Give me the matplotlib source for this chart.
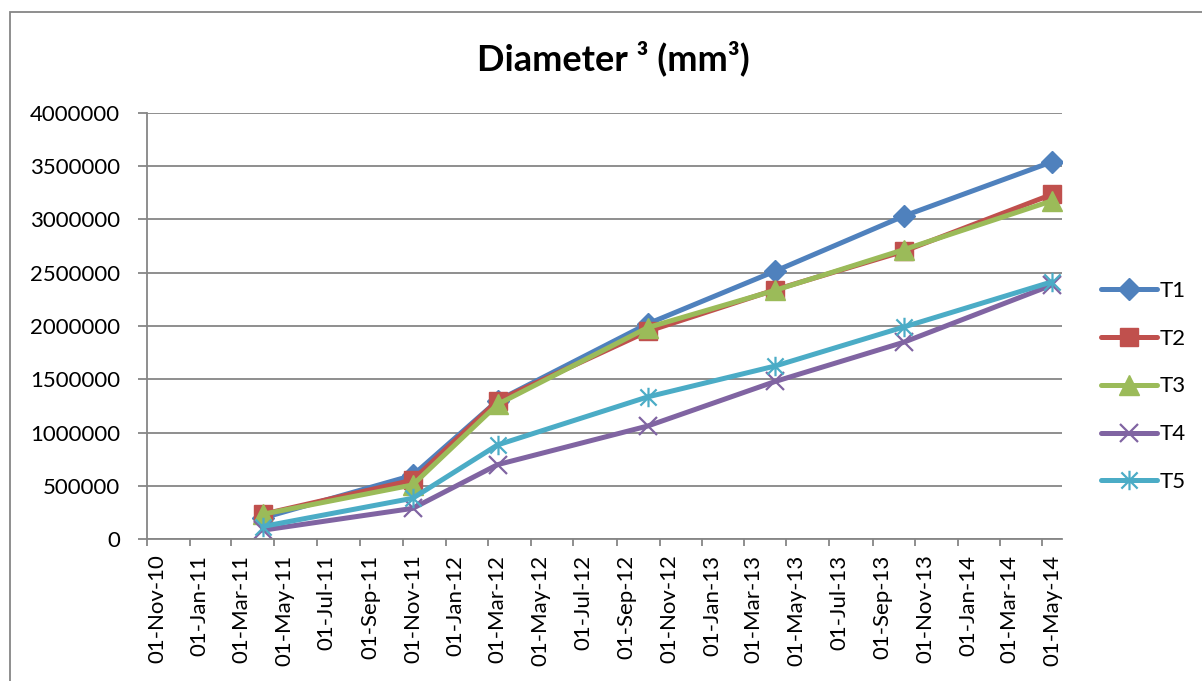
import matplotlib
matplotlib.use("Agg")
import matplotlib.pyplot as plt
import matplotlib.dates as mdates
import matplotlib.transforms as mtransforms
from matplotlib.path import Path
from matplotlib.patches import Rectangle
import pandas as pd

# ---- data ----
dates = ["2011-04-15", "2011-11-15", "2012-03-15", "2012-10-15",
         "2013-04-15", "2013-10-15", "2014-05-15"]
series_names = ["T1", "T2", "T3", "T4", "T5"]
T1 = [200000, 600000, 1300000, 2020000, 2515000, 3030000, 3540000]
T2 = [235000, 555000, 1300000, 1950000, 2340000, 2700000, 3235000]
T3 = [235000, 510000, 1265000, 1985000, 2335000, 2715000, 3175000]
T4 = [85000, 290000, 700000, 1062000, 1480000, 1847000, 2385000]
T5 = [120000, 385000, 885000, 1335000, 1625000, 1990000, 2415000]
y_ticks = [0, 500000, 1000000, 1500000, 2000000, 2500000, 3000000, 3500000, 4000000]
x_tick_start = "2010-11-01"
x_tick_end = "2014-05-01"
title = "Diameter \u00b3 (mm\u00b3)"

plt.rcParams['font.family'] = ['Lato', 'DejaVu Sans']

W, H = 1202, 681
fig = plt.figure(figsize=(W / 100, H / 100), dpi=100)
fig.patch.set_facecolor("white")

# outer chart border (cropped on right and bottom)
fig.patches.append(Rectangle((10 / W, -0.05), 1.2, 1 - 12 / H + 0.05,
                             transform=fig.transFigure, fill=False,
                             edgecolor="#868686", linewidth=1.3))

ax = fig.add_axes([147 / W, 1 - 539.3 / H, (1062 - 147) / W, (539.3 - 112.7) / H])

x = pd.to_datetime(dates)

# star marker (x plus vertical bar)
star = Path([(-0.5, -0.5), (0.5, 0.5), (-0.5, 0.5), (0.5, -0.5), (0, -0.6), (0, 0.6)],
            [Path.MOVETO, Path.LINETO, Path.MOVETO, Path.LINETO, Path.MOVETO, Path.LINETO])

styles = [
    dict(color="#4F81BD", marker="D", ms=11),
    dict(color="#C0504D", marker="s", ms=13),
    dict(color="#9BBB59", marker="^", ms=14),
    dict(color="#8064A2", marker="x", ms=13, mew=1.6),
    dict(color="#4BACC6", marker=star, ms=14, mew=1.6),
]
for name, vals, st in zip(series_names, [T1, T2, T3, T4, T5], styles):
    ax.plot(x, vals, lw=3.6, label=name, solid_capstyle="round",
            solid_joinstyle="round", **st)

# axes styling
ax.set_ylim(0, 4000000)
ax.set_yticks(y_ticks)
ax.set_yticklabels([str(v) for v in y_ticks])
ax.set_xlim(pd.Timestamp(x_tick_start), pd.Timestamp("2014-05-29"))
xt = pd.date_range(x_tick_start, x_tick_end, freq="2MS")
ax.set_xticks(xt)
ax.xaxis.set_major_formatter(mdates.DateFormatter("%d-%b-%y"))

ax.grid(axis="y", color="#868686", linewidth=1.3)
ax.set_axisbelow(True)
for s in ["top", "right"]:
    ax.spines[s].set_visible(False)
for s in ["left", "bottom"]:
    ax.spines[s].set_color("#868686")
    ax.spines[s].set_linewidth(1.3)

ax.tick_params(axis="y", direction="out", length=6.5, width=1.3, color="#868686",
               pad=13, labelsize=16, labelcolor="black")
ax.tick_params(axis="x", direction="out", length=5, width=1.3, color="#868686",
               pad=6, labelsize=16, labelcolor="black")
offset = mtransforms.ScaledTranslation(10 / 100, 0, fig.dpi_scale_trans)
for lab in ax.get_xticklabels():
    lab.set_rotation(90)
    lab.set_transform(lab.get_transform() + offset)

fig.text(613 / W, 1 - 58 / H, title, ha="center", va="center",
         fontsize=26, fontweight="bold")

leg = fig.legend(loc="center left", bbox_to_anchor=(1101 / W, 1 - 386.5 / H),
                 frameon=False, fontsize=16, handlelength=2.5, handletextpad=0.15,
                 labelspacing=1.25, borderpad=0, borderaxespad=0, numpoints=1)

fig.savefig("out.png", dpi=100, facecolor="white")
